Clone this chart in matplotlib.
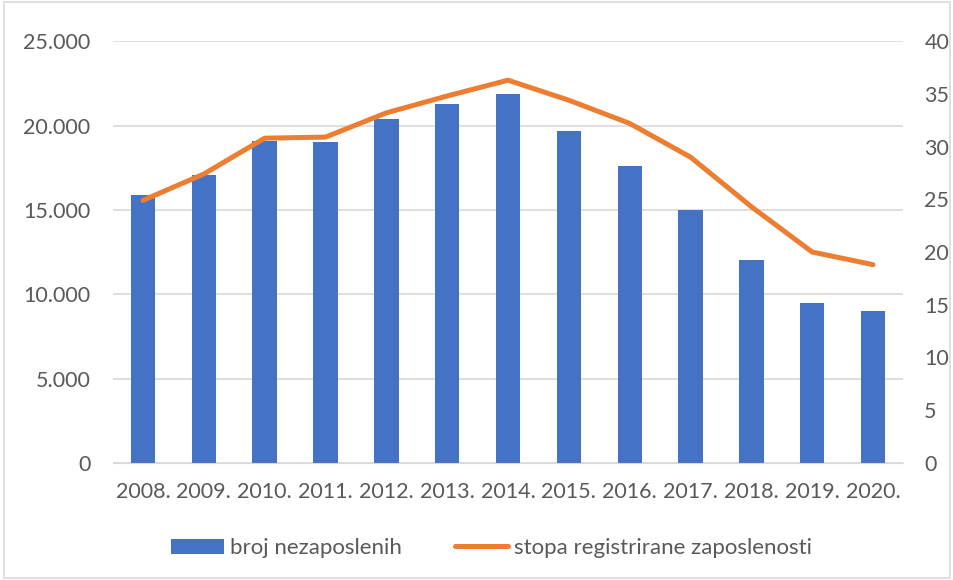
import matplotlib
matplotlib.use('Agg')
import matplotlib.pyplot as plt
from matplotlib.patches import Rectangle
from matplotlib.ticker import FuncFormatter

years = ['2008.', '2009.', '2010.', '2011.', '2012.', '2013.', '2014.',
         '2015.', '2016.', '2017.', '2018.', '2019.', '2020.']
nezaposleni = [15900, 17050, 19100, 19000, 20400, 21300, 21850,
               19700, 17600, 15000, 12050, 9500, 9000]
stopa = [24.9, 27.4, 30.8, 30.9, 33.2, 34.8, 36.3,
         34.4, 32.2, 29.0, 24.3, 20.0, 18.8]

plt.rcParams['font.family'] = ['Lato', 'DejaVu Sans']
text_col = '#595959'
fs = 15.5

fig = plt.figure(figsize=(9.54, 5.8), dpi=100)
ax = fig.add_axes([0.118, 0.202, 0.829, 0.727])
ax2 = ax.twinx()

x = range(len(years))
bars = ax.bar(x, nezaposleni, width=0.4, color='#4472C4', label='broj nezaposlenih', zorder=2)
line, = ax2.plot(x, stopa, color='#ED7D31', linewidth=3.6, solid_capstyle='round',
                 label='stopa registrirane zaposlenosti', zorder=3)

ax.set_xlim(-0.5, len(years) - 0.5)
ax.set_ylim(0, 25000)
ax2.set_ylim(0, 40)
ax.set_yticks(range(0, 25001, 5000))
ax2.set_yticks(range(0, 41, 5))
ax.yaxis.set_major_formatter(FuncFormatter(lambda v, p: f'{int(v):,}'.replace(',', '.')))
ax.set_xticks(list(x))
ax.set_xticklabels(years)

ax.grid(axis='y', color='#D9D9D9', linewidth=1.2, zorder=0)
ax.set_axisbelow(True)
for a in (ax, ax2):
    for s in a.spines.values():
        s.set_visible(False)
    a.tick_params(length=0, labelsize=fs, colors=text_col)
ax.spines['bottom'].set_visible(True)
ax.spines['bottom'].set_color('#D9D9D9')
ax.tick_params(axis='y', pad=16)
ax2.tick_params(axis='y', pad=15)
ax.tick_params(axis='x', pad=14)
ax2.set_zorder(ax.get_zorder() + 1)
ax2.patch.set_visible(False)

fig.legend([bars, line], ['broj nezaposlenih', 'stopa registrirane zaposlenosti'],
           loc='center', bbox_to_anchor=(0.515, 0.055), ncol=2, frameon=False,
           prop={'size': 16}, labelcolor=text_col, handlelength=2.4, handleheight=0.7,
           columnspacing=2.4, handletextpad=0.25)

fig.patches.append(Rectangle((0.004, 0.004), 0.992, 0.992, transform=fig.transFigure,
                             fill=False, edgecolor='#D9D9D9', linewidth=1.2))

fig.savefig('out.png', dpi=100)
